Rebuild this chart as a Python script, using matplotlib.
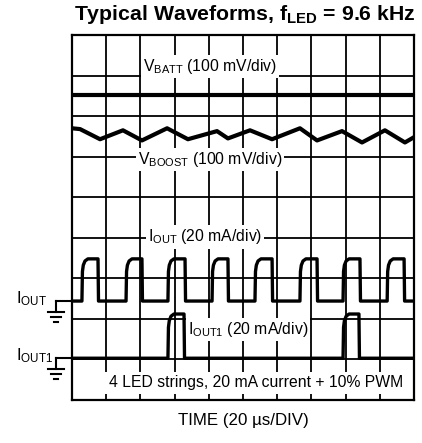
import matplotlib
matplotlib.use("Agg")
import matplotlib.pyplot as plt
import numpy as np

plt.rcParams['font.family'] = ['Liberation Sans', 'DejaVu Sans']
plt.rcParams['mathtext.fontset'] = 'custom'
plt.rcParams['mathtext.rm'] = 'Liberation Sans'
plt.rcParams['mathtext.it'] = 'Liberation Sans'
plt.rcParams['mathtext.bf'] = 'Liberation Sans:bold'

# time in us (20 us/div), vertical in scope divisions (0 = bottom)
vbatt_t = [0, 200]
vbatt_v = [7.51, 7.51]

vboost_t = [0, 4.7, 16.4, 29.8, 40.9, 55.6, 67.8, 84.8, 91.2, 104.1, 117.0, 133.3, 143.3, 157.9, 169.6, 183.0, 194.7, 200]
vboost_v = [6.70, 6.68, 6.43, 6.65, 6.40, 6.70, 6.43, 6.63, 6.45, 6.65, 6.43, 6.70, 6.40, 6.63, 6.35, 6.65, 6.35, 6.48]

iout_rise = [5.8, 31.6, 56.1, 81.9, 107.0, 133.3, 158.5, 184.3]
iout_fall = [15.2, 40.9, 66.1, 91.2, 117.0, 143.3, 168.4, 194.2]
iout_low, iout_high = 2.44, 3.48

iout1_rise = [56.1, 158.5]
iout1_fall = [65.5, 167.8]
iout1_low, iout1_high = 1.03, 2.12

# rounded shape of the rising edge (us after edge, fraction of step)
edge_dt = [0.0, 0.3, 0.8, 1.8, 3.5]
edge_frac = [0.0, 0.7, 0.85, 0.95, 1.0]


def pulse_trace(rises, falls, low, high):
    t = [0.0]
    v = [low]
    for r, f in zip(rises, falls):
        for dt, fr in zip(edge_dt, edge_frac):
            t.append(r + dt)
            v.append(low + fr * (high - low))
        t.append(f)
        v.append(high)
        t.append(f + 0.3)
        v.append(low)
    t.append(200.0)
    v.append(low)
    return t, v


fig = plt.figure(figsize=(4.22, 4.43), dpi=100)
ax = fig.add_axes([72/422, 43/443, 342/422, 365/443])
ax.set_xlim(0, 200)
ax.set_ylim(0, 9)
ax.set_xticks(np.arange(0, 201, 20))
ax.set_yticks(np.arange(0, 10, 1))
ax.grid(True, color='black', lw=1.3)
ax.set_axisbelow(True)
ax.tick_params(length=0, labelbottom=False, labelleft=False)
for s in ax.spines.values():
    s.set_linewidth(1.6)

ax.plot(vbatt_t, vbatt_v, color='black', lw=3.0, solid_capstyle='butt')
ax.plot(vboost_t, vboost_v, color='black', lw=3.0)
t, v = pulse_trace(iout_rise, iout_fall, iout_low, iout_high)
ax.plot(t, v, color='black', lw=2.4)
t, v = pulse_trace(iout1_rise, iout1_fall, iout1_low, iout1_high)
ax.plot(t, v, color='black', lw=2.4)

box = dict(facecolor='white', edgecolor='none', pad=1.5)
fs = 11.3
lab = dict(ha='center', va='center', fontsize=fs)
ax.text(80.7, 8.22, r'V$_{\rm BATT}$ (100 mV/div)', bbox=box, **lab)
ax.text(80.7, 5.93, r'V$_{\rm BOOST}$ (100 mV/div)', bbox=box, **lab)
ax.text(77.8, 4.02, r'I$_{\rm OUT}$ (20 mA/div)', bbox=box, **lab)
ax.text(103, 1.74, r'I$_{\rm OUT1}$ (20 mA/div)', bbox=box, **lab)
ax.text(107.6, 0.42, '4 LED strings, 20 mA current + 10% PWM',
        bbox=dict(facecolor='white', edgecolor='none', pad=2.5), **lab)

# ground markers at the left for the two current traces
for lvl, name in [(iout_low, r'I$_{\rm OUT}$'), (iout1_low, r'I$_{\rm OUT1}$')]:
    stem = -9.4
    ax.plot([stem, 0], [lvl, lvl], color='black', lw=1.5, clip_on=False)
    ax.plot([stem, stem], [lvl, lvl - 0.27], color='black', lw=1.5, clip_on=False)
    for k, hw in enumerate([4.7, 2.9, 1.0]):
        y = lvl - 0.27 - 0.12 * k
        ax.plot([stem - hw, stem + hw], [y, y], color='black', lw=1.5, clip_on=False)
    ax.text(-32.6, lvl + 0.06, name, ha='left', va='center', fontsize=12)

fig.text(245/422, 1 - 15/443, r'Typical Waveforms, f$_{\mathbf{LED}}$ = 9.6 kHz',
         ha='center', va='center', fontsize=15.3, fontweight='bold')
fig.text(243/422, 1 - 420/443, 'TIME (20 µs/DIV)', ha='center', va='center', fontsize=12.2)

fig.savefig('out.png', dpi=100)
